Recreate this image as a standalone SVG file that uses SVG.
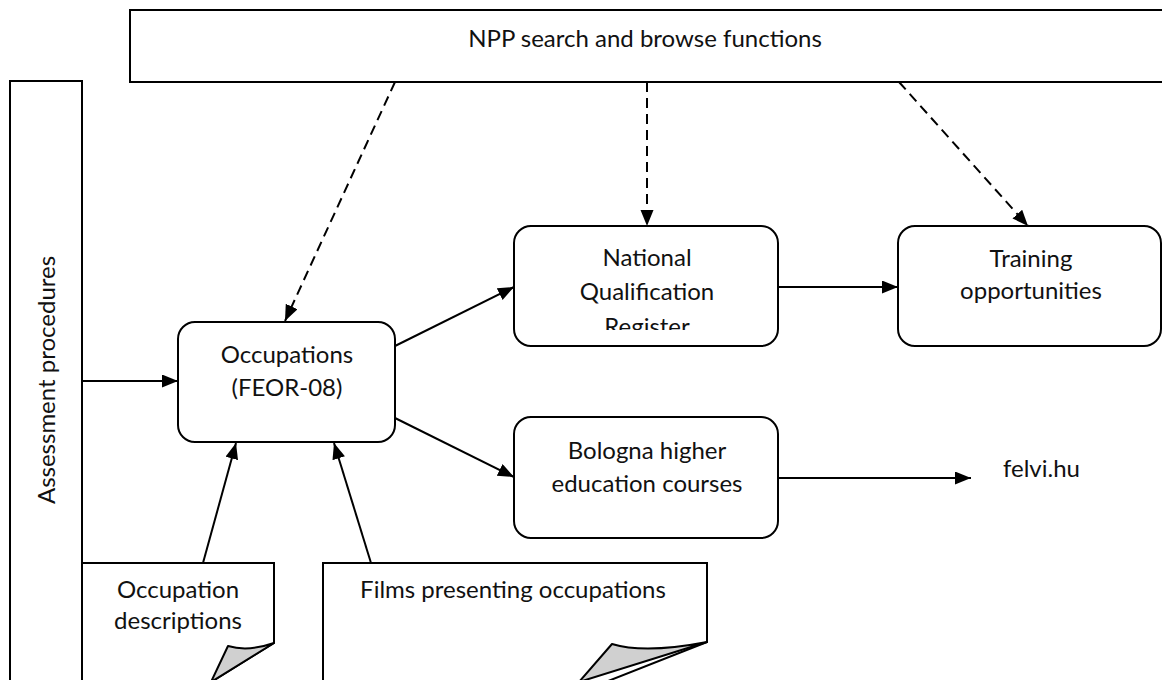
<svg xmlns="http://www.w3.org/2000/svg" width="1162" height="680" viewBox="0 0 1162 680">
<style>
.box{fill:#fff;stroke:#000;stroke-width:2}
.t{font-family:Lato,"Liberation Sans",Arial,sans-serif;font-size:24px;fill:#111;text-anchor:middle}
.c{fill:none;stroke:#000;stroke-width:2}
.d{fill:none;stroke:#000;stroke-width:2;stroke-dasharray:10 6}
.fold{fill:#d0d0d0;stroke:#000;stroke-width:2;stroke-linejoin:round}
</style>
<defs>
<marker id="ah" markerUnits="userSpaceOnUse" markerWidth="18" markerHeight="14" refX="16" refY="6.5" orient="auto">
<path d="M0,0 L16,6.5 L0,13 Z" fill="#000"/>
</marker>
<clipPath id="nqrclip"><rect x="514" y="226" width="264" height="104"/></clipPath>
</defs>
<rect x="0" y="0" width="1162" height="680" fill="#fff"/>

<g id="npp">
<rect class="box" x="130" y="10" width="1045" height="72"/>
<text class="t" x="645" y="47">NPP search and browse functions</text>
</g>

<g id="assessment">
<rect class="box" x="10" y="81" width="72" height="650"/>
<text class="t" transform="translate(55,380) rotate(-90)">Assessment procedures</text>
</g>

<g id="occupations">
<rect class="box" x="178" y="322" width="217" height="120" rx="17"/>
<text class="t" x="287" y="363">Occupations</text>
<text class="t" x="287" y="396">(FEOR-08)</text>
</g>

<g id="nqr">
<rect class="box" x="514" y="226" width="264" height="120" rx="17"/>
<g clip-path="url(#nqrclip)">
<text class="t" x="647" y="266">National</text>
<text class="t" x="647" y="300">Qualification</text>
<text class="t" x="647" y="335">Register</text>
</g>
</g>

<g id="training">
<rect class="box" x="898" y="226" width="263" height="120" rx="17"/>
<text class="t" x="1031" y="267">Training</text>
<text class="t" x="1031" y="299">opportunities</text>
</g>

<g id="bologna">
<rect class="box" x="514" y="417" width="264" height="121" rx="17"/>
<text class="t" x="647" y="459">Bologna higher</text>
<text class="t" x="647" y="492">education courses</text>
</g>

<g id="felvi">
<text class="t" x="1003" y="477" style="text-anchor:start">felvi.hu</text>
</g>

<g id="occdesc">
<path class="box" d="M82,700 V563 H274 V643 L195,692"/>
<path class="fold" d="M228,646 Q248,652 274,643 L211,682 Z"/>
<text class="t" x="178" y="598">Occupation</text>
<text class="t" x="178" y="629">descriptions</text>
</g>

<g id="films">
<path class="box" d="M323,700 V563 H707 V642 L560,700"/>
<path class="fold" d="M612,644 Q645,654 707,642 L579,682 Z"/>
<text class="t" x="513" y="598">Films presenting occupations</text>
</g>

<g id="connectors">
<line class="d" x1="395" y1="82" x2="285" y2="321" marker-end="url(#ah)"/>
<line class="d" x1="647" y1="82" x2="647" y2="226" marker-end="url(#ah)"/>
<line class="d" x1="899" y1="82" x2="1028" y2="226" marker-end="url(#ah)"/>
<line class="c" x1="82" y1="381" x2="178" y2="381" marker-end="url(#ah)"/>
<line class="c" x1="395" y1="346" x2="514" y2="287" marker-end="url(#ah)"/>
<line class="c" x1="395" y1="418" x2="514" y2="477" marker-end="url(#ah)"/>
<line class="c" x1="778" y1="287" x2="898" y2="287" marker-end="url(#ah)"/>
<line class="c" x1="778" y1="478" x2="971" y2="478" marker-end="url(#ah)"/>
<line class="c" x1="203" y1="563" x2="236" y2="443" marker-end="url(#ah)"/>
<line class="c" x1="371" y1="563" x2="334" y2="443" marker-end="url(#ah)"/>
</g>
</svg>
